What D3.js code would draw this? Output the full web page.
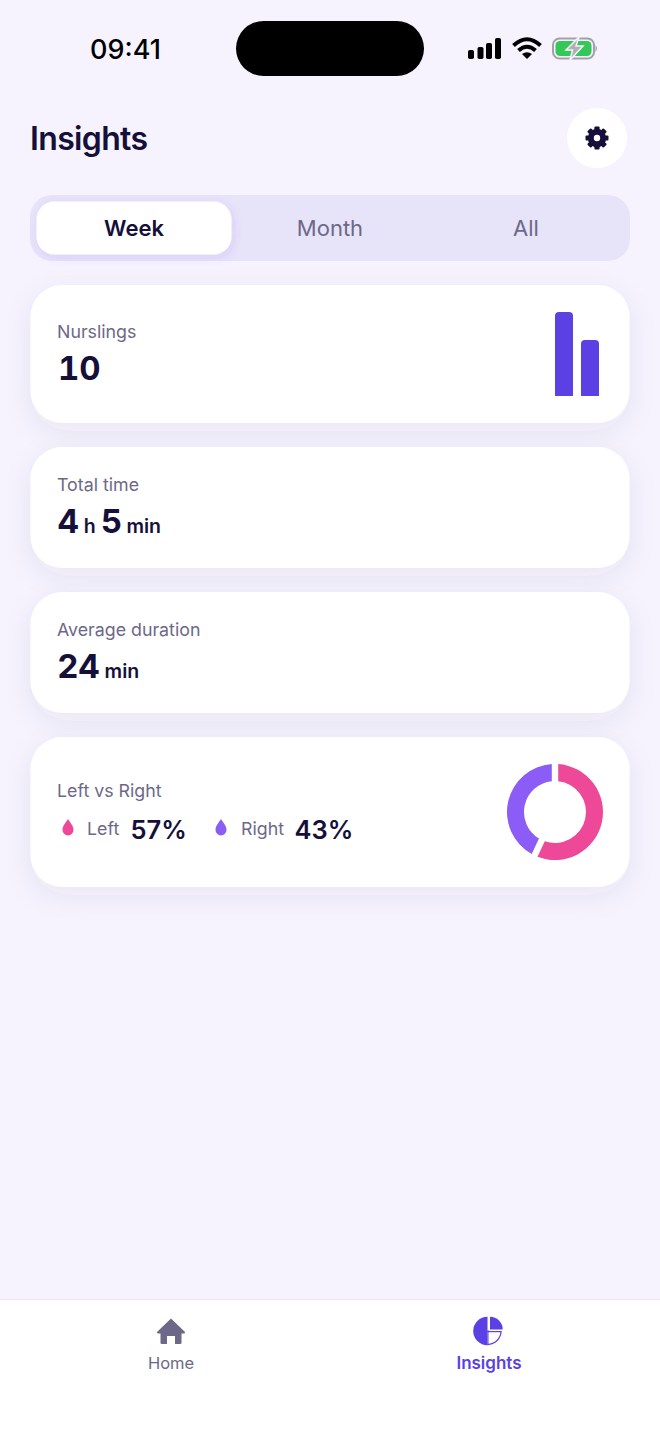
<!DOCTYPE html>
<html><head><meta charset="utf-8">
<script src="https://cdn.jsdelivr.net/npm/d3@7"></script>
<style>html,body{margin:0;padding:0;background:#f6f3fe;overflow:hidden}svg{display:block;font-family:Inter,sans-serif}</style>
</head><body><svg id="c" width="660" height="1434"></svg>
<script>
const tabs = ["Week","Month","All"];
const nurslingSides = ["Left","Right"];
const nurslingCounts = [6,4];
const shareSides = ["Left","Right"];
const sharePercents = [57,43];
const nurslings = "10";
const totalTime = [["4","h"],["5","min"]];
const averageDuration = [["24","min"]];

const ink="#15103a", muted="#6d6888", violet="#5b41e3", pink="#ee4899", purple="#8b5cf6";
const svg=d3.select("#c");
const defs=svg.append("defs");
const f=defs.append("filter").attr("id","sh").attr("x","-10%").attr("y","-30%").attr("width","120%").attr("height","170%");
f.append("feDropShadow").attr("dx",0).attr("dy",8).attr("stdDeviation",14).attr("flood-color","#3d3470").attr("flood-opacity",0.07);
const f2=defs.append("filter").attr("id","sh2").attr("x","-20%").attr("y","-30%").attr("width","140%").attr("height","170%");
f2.append("feDropShadow").attr("dx",2).attr("dy",3).attr("stdDeviation",5).attr("flood-color","#5b41e3").attr("flood-opacity",0.10);

svg.append("rect").attr("width",660).attr("height",1434).attr("fill","#f6f3fe");
function T(x,y,s,size,w,fill,anchor){return svg.append("text").attr("x",x).attr("y",y).text(s).attr("font-size",size).attr("font-weight",w).attr("fill",fill).attr("text-anchor",anchor||"start");}

// status bar
T(125.5,58.5,"09:41",27,500,"#000","middle");
svg.append("rect").attr("x",236).attr("y",21).attr("width",188).attr("height",55).attr("rx",27.5).attr("fill","#000");
[[468,50,6,9],[477.5,47,6,12],[486,43,6,16],[495,38,6,21]].forEach(d=>svg.append("rect").attr("x",d[0]).attr("y",d[1]).attr("width",d[2]).attr("height",d[3]).attr("rx",1.8).attr("fill","#000"));
svg.append("path").attr("d","M513.5 45.5 Q527 33 540.5 45.5 M518.5 50.5 Q527 43 535.5 50.5").attr("fill","none").attr("stroke","#000").attr("stroke-width",4);
svg.append("path").attr("d","M522 54 L527 59 L532 54 Q527 50.5 522 54Z").attr("fill","#000");
svg.append("rect").attr("x",553).attr("y",38.5).attr("width",41).attr("height",20).attr("rx",6.5).attr("fill","none").attr("stroke","#a3a1a8").attr("stroke-width",2);
svg.append("rect").attr("x",555.5).attr("y",41).attr("width",36).attr("height",15).attr("rx",4.5).attr("fill","#35c759");
svg.append("path").attr("d","M595.5 45 Q598.5 48.5 595.5 52Z").attr("fill","#a3a1a8");
svg.append("path").attr("d","M579 37 L566 50 L572.5 50 L570 60 L583 46 L576 46Z").attr("fill","#b1afb6").attr("stroke","#f6f3fe").attr("stroke-width",1.5);

// header
T(30,150,"Insights",32,600,ink).attr("letter-spacing",-0.65);
svg.append("circle").attr("cx",597).attr("cy",138).attr("r",30).attr("fill","#fff");
const gear=svg.append("g").attr("transform","translate(597,138)");
d3.range(8).forEach(i=>gear.append("rect").attr("x",-2.6).attr("y",-11.5).attr("width",5.2).attr("height",6).attr("rx",1).attr("fill",ink).attr("transform",`rotate(${i*45})`));
gear.append("circle").attr("r",6.2).attr("fill","#fff").attr("stroke",ink).attr("stroke-width",6);

// segmented control
svg.append("rect").attr("x",30).attr("y",195).attr("width",600).attr("height",66).attr("rx",22).attr("fill","#e7e3f9");
svg.append("rect").attr("x",36.5).attr("y",201.5).attr("width",195).attr("height",53).attr("rx",18).attr("fill","#fff").attr("filter","url(#sh2)");
const tabX=d3.scalePoint().domain(tabs).range([134,526]);
tabs.forEach((t,i)=>T(tabX(t),236,t,22,i==0?600:400,i==0?ink:muted,"middle"));

// cards
[[285,138],[447,121],[592,121],[737,150]].forEach(c=>svg.append("rect").attr("x",30.5).attr("y",c[0]).attr("width",599).attr("height",c[1]).attr("rx",32).attr("fill","#fff").attr("filter","url(#sh)"));

function valueLine(x,y,parts){
  const t=svg.append("text").attr("x",x).attr("y",y).attr("fill",ink);
  parts.forEach((p,i)=>{
    t.append("tspan").text(p[0]).attr("font-size",33).attr("font-weight",700).attr("dx",i?5:0);
    t.append("tspan").text(p[1]).attr("font-size",19.5).attr("font-weight",600).attr("dx",4.5);
  });
}
T(57,338,"Nurslings",17.8,400,muted);
T(58,380,nurslings,33,700,ink).style("font-feature-settings","'tnum'");
T(57,491,"Total time",17.8,400,muted);
valueLine(57,533,totalTime);
T(57,636,"Average duration",17.8,400,muted);
valueLine(57.5,678,averageDuration);

// mini bars
const bx=d3.scaleBand().domain(nurslingSides).range([555,599]).paddingInner(8/26).paddingOuter(0);
const by=d3.scaleLinear().domain([0,6]).range([396,312]);
svg.append("g").selectAll("path").data(nurslingSides).join("path").attr("fill",violet)
 .attr("d",(s,i)=>{const x=bx(s),w=bx.bandwidth(),y=by(nurslingCounts[i]),b=by(0),r=4;
   return `M${x} ${b}V${y+r}Q${x} ${y} ${x+r} ${y}H${x+w-r}Q${x+w} ${y} ${x+w} ${y+r}V${b}Z`;});

// left vs right
T(57,797,"Left vs Right",17.8,400,muted);
const drop="M0 -8.5 C2.5 -4.5 5.5 -1.5 5.5 2.2 A5.5 5.8 0 0 1 -5.5 2.2 C-5.5 -1.5 -2.5 -4.5 0 -8.5Z";
svg.append("path").attr("d",drop).attr("transform","translate(68,827.5)").attr("fill",pink);
T(87,835,"Left",17.8,400,muted);
T(130.5,839,sharePercents[0]+"%",25.5,600,ink);
svg.append("path").attr("d",drop).attr("transform","translate(221,827.5)").attr("fill",purple);
T(241,835,"Right",17.8,400,muted);
T(294.5,839,sharePercents[1]+"%",25.5,600,ink);

const pie=d3.pie().sort(null).value(d=>d);
const arc=d3.arc().innerRadius(31).outerRadius(48);
svg.append("g").attr("transform","translate(555,812)").selectAll("path").data(pie(sharePercents)).join("path")
 .attr("d",arc.padAngle(4.5/40)).attr("fill",(d,i)=>i==0?pink:purple);

// tab bar
svg.append("rect").attr("x",0).attr("y",1299).attr("width",660).attr("height",135).attr("fill","#fff");
svg.append("rect").attr("x",0).attr("y",1299).attr("width",660).attr("height",1).attr("fill","#ebe8f3");
svg.append("path").attr("d","M171 1318.5 L185 1332 Q185.500 1333.500 183.500 1333.500 L181.500 1333.500 L181.500 1343 Q181.500 1344 180 1344 L175 1344 L175 1336 L167 1336 L167 1344 L162 1344 Q160.500 1344 160.500 1343 L160.500 1333.500 L158.500 1333.500 Q156.500 1333.500 157 1332Z").attr("fill",muted);
T(171,1369,"Home",16.5,400,muted,"middle");
const pi=svg.append("g").attr("transform","translate(487.5,1331)");
const a2=d3.arc();
pi.append("path").attr("d",a2({innerRadius:0,outerRadius:14.3,startAngle:Math.PI,endAngle:2*Math.PI})).attr("fill",violet);
pi.append("rect").attr("x",0).attr("y",-1).attr("width",1).attr("height",15.3).attr("fill",violet);
pi.append("path").attr("d",a2({innerRadius:0,outerRadius:12.7,startAngle:0,endAngle:Math.PI/2})).attr("fill",violet).attr("transform","translate(2.5,-1.5)");
pi.append("path").attr("d",a2({innerRadius:12.9,outerRadius:14.1,startAngle:Math.PI/2,endAngle:Math.PI})).attr("fill",violet);
pi.append("rect").attr("x",0).attr("y",0).attr("width",14).attr("height",1.2).attr("fill",violet);
T(489,1369,"Insights",17,600,violet,"middle");
</script></body></html>
